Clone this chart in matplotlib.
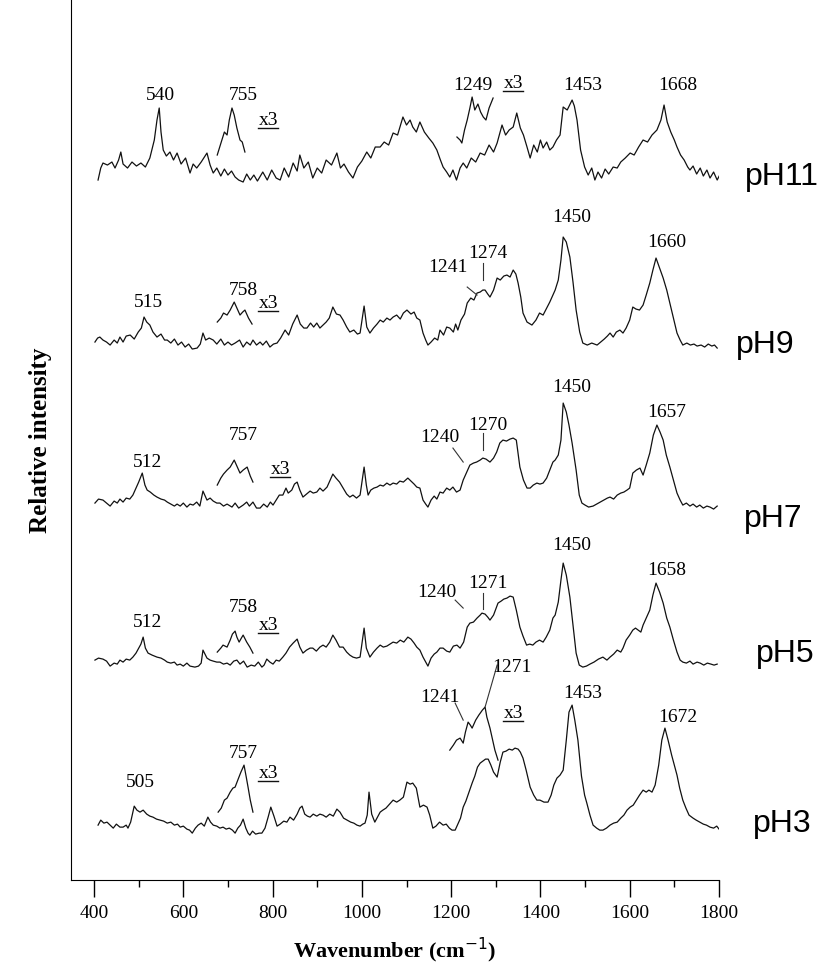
import matplotlib.pyplot as plt

# Raman spectra: (wavenumber cm-1, stacked relative intensity)
ph11 = [(409, 700), (415, 712), (420, 717), (430, 715), (440, 718), (447, 712), (455, 720), (460, 728),
        (465, 716), (475, 712), (485, 718), (495, 714), (505, 717), (515, 713), (525, 722), (535, 740),
        (541, 760), (546, 772), (550, 748), (555, 730), (562, 724), (570, 728), (578, 720), (586, 727),
        (595, 716), (605, 722), (615, 707), (622, 716), (630, 712), (640, 718), (653, 727), (660, 715),
        (667, 707), (675, 712), (684, 704), (692, 711), (700, 705), (708, 709), (716, 703), (724, 700),
        (734, 698), (742, 706), (750, 700), (758, 705), (766, 699), (778, 708), (788, 700), (798, 710),
        (808, 702), (817, 700), (826, 712), (836, 703), (846, 717), (855, 709), (861, 725), (870, 712),
        (880, 718), (890, 702), (900, 712), (910, 707), (920, 720), (932, 715), (944, 727), (952, 712),
        (960, 716), (970, 708), (980, 702), (990, 713), (1000, 719), (1011, 728), (1020, 722), (1030, 733),
        (1041, 733), (1050, 738), (1060, 735), (1070, 747), (1080, 745), (1092, 763), (1100, 755),
        (1108, 760), (1114, 753), (1122, 748), (1130, 758), (1140, 748), (1150, 742), (1159, 737),
        (1168, 730), (1176, 720), (1182, 713), (1190, 708), (1197, 703), (1204, 710), (1212, 700),
        (1220, 712), (1227, 717), (1235, 712), (1245, 722), (1255, 718), (1265, 727), (1275, 725),
        (1285, 735), (1295, 728), (1303, 737), (1314, 755), (1322, 745), (1330, 750), (1339, 753),
        (1347, 767), (1355, 752), (1362, 745), (1370, 733), (1377, 722), (1385, 735), (1393, 728),
        (1400, 740), (1406, 732), (1414, 738), (1421, 730), (1428, 733), (1436, 740), (1444, 745),
        (1451, 773), (1460, 770), (1471, 780), (1476, 774), (1482, 760), (1490, 730), (1499, 713),
        (1507, 705), (1515, 712), (1522, 700), (1529, 708), (1537, 702), (1545, 711), (1553, 706),
        (1563, 713), (1572, 712), (1580, 718), (1590, 722), (1601, 727), (1610, 725), (1620, 733),
        (1630, 740), (1640, 738), (1650, 745), (1661, 750), (1670, 760), (1677, 775), (1684, 758),
        (1692, 748), (1700, 740), (1706, 733), (1714, 725), (1722, 720), (1730, 713), (1735, 710),
        (1742, 714), (1750, 706), (1758, 712), (1765, 704), (1773, 710), (1780, 702), (1788, 708),
        (1796, 700), (1804, 707), (1811, 703), (1818, 698)]
ph9 = [(402, 538), (408, 542), (413, 543), (420, 540), (428, 538), (436, 535), (445, 540), (452, 537),
       (458, 543), (465, 538), (472, 544), (481, 545), (490, 541), (499, 548), (506, 552), (512, 563),
       (518, 558), (525, 555), (532, 548), (541, 543), (550, 546), (558, 540), (564, 540), (572, 537),
       (580, 541), (588, 535), (596, 538), (604, 533), (612, 536), (620, 531), (631, 532), (638, 536),
       (644, 547), (650, 540), (658, 542), (667, 540), (675, 536), (684, 541), (692, 535), (700, 538),
       (708, 535), (716, 537), (726, 540), (734, 533), (742, 538), (750, 535), (756, 540), (764, 535),
       (772, 538), (778, 535), (786, 539), (794, 533), (802, 536), (810, 537), (818, 542), (828, 550),
       (836, 545), (845, 556), (855, 565), (862, 556), (870, 552), (877, 552), (885, 557), (892, 553),
       (899, 557), (906, 552), (913, 555), (920, 558), (927, 562), (935, 573), (943, 566), (951, 565),
       (958, 560), (966, 553), (973, 548), (982, 550), (990, 546), (996, 547), (1005, 574), (1011, 553),
       (1018, 547), (1026, 552), (1034, 556), (1041, 560), (1048, 558), (1056, 562), (1063, 560),
       (1070, 563), (1078, 565), (1086, 561), (1093, 567), (1101, 570), (1110, 566), (1117, 568),
       (1123, 562), (1130, 560), (1137, 547), (1143, 540), (1148, 535), (1155, 538), (1163, 542),
       (1170, 540), (1175, 550), (1183, 545), (1190, 553), (1197, 552), (1205, 548), (1210, 556),
       (1215, 550), (1222, 560), (1230, 566), (1236, 577), (1244, 582), (1251, 580), (1258, 587),
       (1265, 588), (1271, 590), (1276, 590), (1282, 586), (1287, 583), (1295, 590), (1303, 602),
       (1310, 600), (1318, 604), (1325, 605), (1332, 603), (1339, 610), (1345, 606), (1350, 597),
       (1356, 583), (1361, 567), (1370, 558), (1381, 555), (1390, 560), (1398, 567), (1406, 565),
       (1414, 572), (1421, 578), (1428, 585), (1433, 590), (1440, 600), (1446, 620), (1451, 643),
       (1458, 638), (1466, 623), (1473, 598), (1480, 570), (1488, 548), (1495, 537), (1505, 535),
       (1515, 537), (1527, 535), (1535, 538), (1543, 541), (1550, 544), (1556, 547), (1563, 543),
       (1570, 548), (1578, 550), (1585, 547), (1592, 552), (1600, 560), (1607, 573), (1614, 571),
       (1622, 570), (1630, 575), (1637, 585), (1645, 597), (1652, 610), (1659, 622), (1667, 612),
       (1675, 602), (1683, 590), (1690, 577), (1698, 562), (1706, 547), (1713, 540), (1719, 535),
       (1728, 537), (1736, 535), (1744, 536), (1751, 534), (1760, 535), (1768, 533), (1776, 536),
       (1784, 534), (1790, 535), (1796, 532)]
ph7 = [(402, 377), (410, 381), (420, 380), (428, 377), (436, 374), (445, 379), (452, 377), (458, 381),
       (465, 378), (472, 382), (480, 381), (487, 385), (494, 392), (500, 398), (508, 407), (514, 395),
       (519, 390), (526, 388), (534, 385), (541, 383), (550, 381), (558, 380), (564, 378), (572, 376),
       (580, 374), (586, 376), (593, 374), (600, 377), (608, 373), (615, 376), (622, 375), (630, 378),
       (637, 374), (644, 389), (653, 380), (660, 382), (667, 379), (675, 377), (682, 377), (690, 374),
       (698, 376), (709, 373), (716, 377), (724, 372), (734, 375), (742, 378), (748, 374), (756, 378),
       (764, 372), (772, 372), (780, 376), (788, 373), (795, 378), (801, 375), (808, 380), (815, 385),
       (823, 385), (830, 392), (835, 387), (843, 390), (849, 396), (855, 398), (861, 390), (868, 383),
       (876, 386), (884, 389), (891, 387), (899, 388), (906, 392), (913, 389), (922, 393), (929, 400),
       (935, 406), (942, 402), (950, 398), (958, 392), (966, 386), (973, 383), (980, 385), (988, 382),
       (996, 385), (1005, 413), (1010, 395), (1014, 385), (1020, 390), (1027, 392), (1034, 393),
       (1041, 395), (1048, 394), (1056, 397), (1063, 395), (1070, 397), (1078, 396), (1085, 399),
       (1093, 398), (1103, 402), (1110, 399), (1117, 396), (1123, 393), (1130, 392), (1137, 380),
       (1143, 376), (1148, 373), (1155, 380), (1162, 384), (1168, 381), (1175, 388), (1182, 387),
       (1190, 392), (1197, 390), (1204, 393), (1212, 388), (1220, 390), (1227, 400), (1235, 408),
       (1242, 415), (1250, 417), (1257, 418), (1265, 420), (1271, 422), (1278, 421), (1287, 418),
       (1295, 422), (1302, 428), (1309, 437), (1316, 440), (1324, 439), (1332, 441), (1339, 442),
       (1346, 440), (1354, 413), (1362, 400), (1370, 392), (1377, 392), (1384, 395), (1392, 397),
       (1399, 396), (1406, 397), (1414, 402), (1421, 410), (1428, 418), (1433, 420), (1440, 425),
       (1446, 440), (1451, 477), (1458, 468), (1464, 455), (1471, 437), (1480, 410), (1487, 385),
       (1493, 377), (1500, 375), (1508, 373), (1518, 374), (1526, 376), (1534, 378), (1542, 380),
       (1550, 382), (1556, 383), (1564, 381), (1572, 385), (1580, 387), (1587, 388), (1594, 390),
       (1600, 392), (1607, 407), (1615, 410), (1623, 412), (1630, 405), (1637, 415), (1645, 427),
       (1653, 445), (1661, 455), (1668, 448), (1675, 440), (1682, 425), (1690, 413), (1698, 400),
       (1706, 387), (1713, 380), (1719, 375), (1727, 377), (1735, 374), (1742, 376), (1750, 373),
       (1757, 375), (1765, 372), (1773, 374), (1780, 373), (1788, 371), (1796, 374)]
ph5 = [(402, 220), (410, 222), (420, 221), (428, 219), (436, 214), (445, 217), (452, 216), (458, 220),
       (465, 218), (472, 221), (480, 220), (487, 223), (494, 227), (500, 232), (505, 236), (510, 243),
       (515, 232), (521, 227), (530, 225), (541, 223), (550, 222), (558, 220), (564, 218), (572, 217),
       (580, 218), (586, 215), (593, 216), (600, 214), (608, 217), (615, 214), (626, 213), (634, 214),
       (640, 217), (644, 230), (653, 222), (660, 220), (667, 219), (675, 218), (682, 218), (690, 216),
       (698, 217), (705, 215), (713, 219), (720, 220), (727, 216), (735, 219), (743, 213), (752, 215),
       (760, 214), (768, 218), (776, 213), (781, 215), (787, 221), (794, 218), (801, 216), (808, 220),
       (815, 219), (823, 223), (830, 227), (838, 233), (846, 237), (855, 241), (861, 233), (868, 227),
       (876, 230), (884, 232), (890, 232), (898, 229), (906, 233), (913, 235), (920, 233), (928, 238),
       (935, 245), (942, 240), (950, 233), (958, 233), (966, 228), (973, 225), (980, 223), (988, 222),
       (996, 223), (1005, 252), (1010, 232), (1018, 223), (1026, 228), (1034, 232), (1041, 235),
       (1048, 233), (1056, 234), (1063, 236), (1070, 238), (1078, 237), (1086, 240), (1094, 238),
       (1103, 243), (1110, 241), (1117, 237), (1123, 233), (1130, 230), (1137, 223), (1143, 218),
       (1148, 214), (1155, 222), (1162, 226), (1168, 228), (1175, 232), (1182, 232), (1190, 229),
       (1197, 228), (1205, 234), (1213, 235), (1220, 232), (1228, 238), (1236, 253), (1242, 257),
       (1250, 258), (1258, 262), (1265, 265), (1269, 267), (1276, 266), (1282, 263), (1287, 260),
       (1295, 265), (1305, 277), (1312, 279), (1318, 281), (1325, 282), (1332, 284), (1339, 283),
       (1346, 270), (1354, 253), (1361, 244), (1369, 235), (1376, 236), (1383, 235), (1390, 238),
       (1398, 240), (1406, 238), (1413, 243), (1421, 250), (1428, 262), (1433, 265), (1440, 278),
       (1446, 300), (1451, 317), (1458, 305), (1466, 283), (1473, 255), (1480, 227), (1487, 215),
       (1495, 213), (1503, 214), (1511, 216), (1520, 218), (1530, 221), (1540, 223), (1549, 220),
       (1556, 223), (1564, 226), (1572, 230), (1580, 228), (1585, 232), (1592, 240), (1600, 245),
       (1607, 250), (1613, 252), (1619, 250), (1625, 248), (1630, 255), (1637, 262), (1645, 270),
       (1652, 285), (1659, 297), (1667, 288), (1675, 277), (1683, 262), (1690, 253), (1698, 240),
       (1706, 228), (1713, 220), (1719, 218), (1727, 217), (1735, 219), (1742, 216), (1751, 218),
       (1758, 217), (1766, 215), (1774, 217), (1782, 216), (1789, 215), (1796, 216)]
ph3 = [(409, 55), (415, 60), (422, 57), (429, 58), (436, 55), (443, 52), (450, 56), (458, 53), (465, 53),
       (472, 55), (476, 52), (482, 58), (490, 74), (496, 70), (503, 68), (510, 70), (518, 66), (525, 64),
       (532, 63), (540, 61), (548, 60), (556, 59), (564, 57), (572, 58), (580, 55), (587, 56), (593, 53),
       (600, 54), (608, 51), (614, 50), (620, 47), (627, 52), (633, 55), (640, 57), (647, 54), (655, 63),
       (661, 58), (667, 55), (675, 54), (682, 52), (689, 53), (696, 51), (703, 52), (710, 50), (716, 47),
       (722, 52), (728, 55), (734, 61), (740, 52), (745, 47), (749, 45), (755, 49), (762, 46), (770, 47),
       (776, 47), (783, 52), (790, 63), (796, 73), (803, 64), (810, 54), (817, 56), (825, 59), (832, 58),
       (839, 63), (847, 60), (855, 66), (861, 72), (866, 74), (872, 66), (878, 64), (884, 63), (891, 66),
       (899, 64), (906, 66), (913, 65), (920, 63), (928, 66), (936, 64), (944, 71), (951, 68), (959, 62),
       (967, 60), (975, 58), (982, 57), (989, 55), (996, 54), (1002, 56), (1007, 57), (1012, 65),
       (1016, 88), (1022, 66), (1029, 58), (1035, 63), (1041, 68), (1047, 70), (1054, 72), (1062, 76),
       (1070, 80), (1078, 78), (1085, 80), (1093, 83), (1101, 98), (1108, 96), (1114, 97), (1122, 92),
       (1130, 73), (1138, 75), (1146, 73), (1152, 65), (1159, 52), (1166, 54), (1174, 58), (1182, 55),
       (1189, 56), (1196, 52), (1202, 50), (1209, 50), (1215, 56), (1221, 62), (1227, 73), (1233, 79),
       (1240, 88), (1247, 97), (1253, 104), (1259, 113), (1265, 117), (1271, 119), (1277, 121),
       (1283, 121), (1289, 115), (1295, 108), (1303, 103), (1310, 118), (1316, 128), (1323, 129),
       (1330, 131), (1337, 130), (1343, 132), (1350, 131), (1355, 128), (1361, 122), (1368, 110),
       (1377, 93), (1385, 85), (1392, 80), (1399, 80), (1408, 78), (1417, 78), (1424, 85), (1430, 95),
       (1437, 102), (1444, 105), (1451, 110), (1458, 140), (1464, 168), (1471, 175), (1477, 160),
       (1484, 140), (1492, 104), (1499, 85), (1504, 77), (1511, 65), (1518, 55), (1526, 52), (1533, 50),
       (1540, 50), (1548, 52), (1556, 55), (1564, 57), (1572, 58), (1580, 62), (1587, 65), (1594, 70),
       (1601, 73), (1608, 75), (1615, 80), (1622, 85), (1630, 90), (1637, 88), (1643, 90), (1650, 88),
       (1657, 95), (1665, 115), (1672, 140), (1679, 152), (1686, 140), (1694, 125), (1700, 115),
       (1706, 105), (1712, 92), (1719, 80), (1726, 72), (1733, 65), (1742, 62), (1749, 60), (1757, 58),
       (1765, 56), (1772, 55), (1780, 53), (1788, 52), (1795, 54), (1802, 50), (1809, 47)]

# x3 magnified segments
ph11_755 = [(676, 725), (685, 738), (692, 748), (698, 745), (703, 760), (709, 772), (714, 765), (720, 752),
            (727, 740), (732, 738), (738, 728)]
ph11_1249 = [(1213, 743), (1220, 740), (1224, 737), (1230, 750), (1236, 760), (1242, 772), (1247, 783),
             (1253, 770), (1260, 776), (1266, 768), (1272, 763), (1278, 760), (1285, 772), (1294, 782)]
ph9_758 = [(676, 558), (684, 562), (690, 567), (698, 565), (705, 570), (714, 578), (720, 572), (727, 565),
           (733, 568), (738, 570), (746, 562), (754, 556)]
ph7_757 = [(676, 395), (684, 402), (690, 406), (698, 410), (705, 413), (714, 420), (720, 414), (727, 407),
           (734, 410), (743, 413), (750, 404), (756, 398)]
ph5_758 = [(676, 228), (684, 232), (689, 235), (698, 233), (705, 240), (710, 246), (716, 249), (720, 243),
           (725, 238), (730, 242), (734, 245), (742, 238), (749, 233), (756, 227)]
ph3_757 = [(678, 68), (685, 72), (692, 80), (698, 82), (705, 88), (711, 92), (716, 93), (722, 100),
           (729, 108), (736, 115), (741, 103), (745, 93), (750, 80), (756, 68)]
ph3_1241 = [(1197, 130), (1205, 135), (1212, 140), (1220, 142), (1227, 137), (1232, 148), (1238, 158),
            (1243, 155), (1247, 152), (1255, 160), (1262, 165), (1270, 170), (1276, 173), (1280, 163),
            (1287, 152), (1293, 140), (1298, 130), (1305, 120)]

spectra = [ph11, ph9, ph7, ph5, ph3]
insets = [ph11_755, ph11_1249, ph9_758, ph7_757, ph5_758, ph3_757, ph3_1241]

ph_labels = ['pH11', 'pH9', 'pH7', 'pH5', 'pH3']
ph_pos = [(1941, 695), (1903, 527), (1921, 353), (1948, 218), (1941, 48)]

peak_labels = [('540', 548, 785), ('755', 734, 785), ('1249', 1249, 795), ('1453', 1495, 795),
               ('1668', 1708, 795),
               ('515', 521, 578), ('758', 734, 590), ('1241', 1193, 613), ('1274', 1283, 627),
               ('1450', 1471, 663), ('1660', 1683, 638),
               ('512', 521, 418), ('757', 734, 445), ('1240', 1175, 443), ('1270', 1283, 455),
               ('1450', 1471, 493), ('1657', 1683, 468),
               ('512', 521, 258), ('758', 734, 273), ('1240', 1168, 288), ('1271', 1283, 297),
               ('1450', 1471, 335), ('1658', 1683, 310),
               ('505', 503, 98), ('757', 734, 127), ('1241', 1175, 183), ('1271', 1336, 213),
               ('1453', 1495, 187), ('1672', 1708, 163)]
x3_pos = [(790, 760), (1339, 797), (790, 577), (817, 411), (790, 255), (790, 107), (1339, 167)]
leaders = [((1236, 1258), (593, 585)), ((1271, 1271), (617, 600)),
           ((1204, 1227), (432, 418)), ((1271, 1271), (447, 430)),
           ((1209, 1227), (280, 272)), ((1271, 1271), (287, 271)),
           ((1209, 1227), (177, 160)), ((1303, 1276), (215, 173))]

serif = 'Liberation Serif'

fig = plt.figure(figsize=(8.36, 9.64), dpi=100)
ax = fig.add_axes([0.085, 0.087, 0.775, 0.913])

for s in spectra + insets:
    wn, inten = zip(*s)
    ax.plot(wn, inten, color='#111111', lw=0.9)
for xs, ys in leaders:
    ax.plot(xs, ys, color='#333333', lw=0.8)

for txt, x, y in peak_labels:
    ax.text(x, y, txt, ha='center', va='center', fontsize=14, family=serif)
for x, y in x3_pos:
    ax.text(x, y, 'x3', ha='center', va='center', fontsize=14, family=serif)
    ax.plot([x - 22, x + 22], [y - 8, y - 8], color='#111111', lw=1.0)

for lab, (x, y) in zip(ph_labels, ph_pos):
    ax.text(x, y, lab, ha='center', va='baseline', fontsize=23, family='Liberation Sans',
            clip_on=False)

ax.set_xlim(348.5, 1800)
ax.set_ylim(0, 880)
ax.set_xticks(range(400, 1801, 200))
ax.set_xticks(range(500, 1800, 200), minor=True)
ax.set_yticks([])
for lab in ax.get_xticklabels():
    lab.set_family(serif)
    lab.set_fontsize(14)
ax.tick_params(axis='x', which='major', length=12, width=1.0, pad=6)
ax.tick_params(axis='x', which='minor', length=5, width=1.0)
ax.spines['top'].set_visible(False)
ax.spines['right'].set_visible(False)
ax.set_xlabel('Wavenumber (cm$^{-1}$)', fontsize=16, family=serif, fontweight='bold', labelpad=10)
ax.set_ylabel('Relative intensity', fontsize=18, family=serif, fontweight='bold', labelpad=14)

fig.savefig('out.png', dpi=100)
